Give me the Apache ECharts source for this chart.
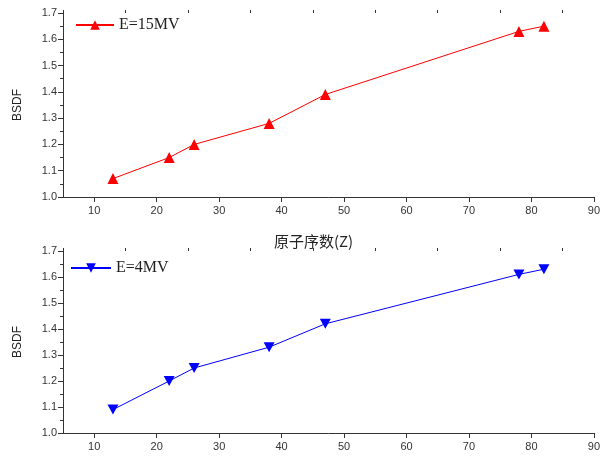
<!DOCTYPE html>
<html><head><meta charset="utf-8">
<script src="https://cdn.jsdelivr.net/npm/echarts@6/dist/echarts.min.js"></script>
<style>html,body{margin:0;padding:0;background:#fff}#c{width:603px;height:463px}</style>
</head><body><div id="c"></div>
<script>
const atomicNumbers = [13, 22, 26, 38, 47, 78, 82];
const bsdf15MV = [1.07, 1.15, 1.20, 1.28, 1.39, 1.63, 1.65];
const bsdf4MV = [1.09, 1.20, 1.25, 1.33, 1.42, 1.61, 1.63];
const xMajorTicks = [10, 20, 30, 40, 50, 60, 70, 80, 90];
const xMinorTicks = [5, 15, 25, 35, 45, 55, 65, 75, 85];
const seriesNames = ['E=15MV', 'E=4MV'];
const xAxisTitle = '原子序数(Z)';
const yAxisTitle = 'BSDF';

const axisColor = '#333';
const labelFont = {color: '#333', fontSize: 11, fontFamily: 'Liberation Sans, Arial, sans-serif'};

function xAxes(gridIndex) {
  return [{
    type: 'value', gridIndex, min: 5, max: 90, interval: 5,
    axisLine: {lineStyle: {color: axisColor, width: 1}},
    axisTick: {show: true, length: 5, customValues: xMajorTicks, lineStyle: {color: axisColor}},
    axisLabel: Object.assign({margin: 8, customValues: xMajorTicks}, labelFont),
    splitLine: {show: false}
  }, {
    type: 'value', gridIndex, min: 5, max: 90, interval: 5,
    axisLine: {show: false},
    axisTick: {show: true, length: 3, customValues: xMinorTicks, lineStyle: {color: axisColor}},
    axisLabel: {show: false},
    splitLine: {show: false}
  }];
}
function yAxis(gridIndex) {
  return {
    type: 'value', gridIndex, min: 1.0, max: 1.7, interval: 0.1,
    axisLine: {show: true, lineStyle: {color: axisColor, width: 1}},
    axisTick: {show: true, length: 5, lineStyle: {color: axisColor}},
    minorTick: {show: true, splitNumber: 2, length: 3, lineStyle: {color: axisColor}},
    axisLabel: Object.assign({margin: 6, formatter: v => v.toFixed(1)}, labelFont),
    splitLine: {show: false},
    name: yAxisTitle, nameLocation: 'middle', nameGap: 39,
    nameTextStyle: {color: '#222', fontSize: 12, fontFamily: 'Liberation Sans, Arial, sans-serif'}
  };
}

const legendText = {color: '#222', fontSize: 16, fontFamily: 'Liberation Serif, DejaVu Serif, serif'};
const chart = echarts.init(document.getElementById('c'), null, {renderer: 'canvas'});
chart.setOption({
  animation: false,
  backgroundColor: '#fff',
  title: {text: xAxisTitle, left: 269, top: 229,
    textStyle: {color: '#222', fontSize: 15, fontWeight: 'normal', fontFamily: 'Noto Sans CJK SC, sans-serif'}},
  grid: [
    {left: 63, top: 13, width: 531, height: 184},
    {left: 63, top: 251, width: 531, height: 182}
  ],
  legend: [
    {data: [seriesNames[0]], left: 70, top: 12, itemWidth: 38, itemHeight: 12, itemGap: 4, textStyle: legendText},
    {data: [seriesNames[1]], left: 65, top: 255, itemWidth: 40, itemHeight: 12, itemGap: 4, textStyle: legendText}
  ],
  xAxis: [...xAxes(0), ...xAxes(1)],
  yAxis: [yAxis(0), yAxis(1)],
  series: [
    {name: seriesNames[0], type: 'line', xAxisIndex: 0, yAxisIndex: 0,
     data: atomicNumbers.map((x, i) => [x, bsdf15MV[i]]),
     symbol: 'triangle', symbolSize: 11,
     lineStyle: {color: '#ff0000', width: 1}, itemStyle: {color: '#ff0000'}},
    {name: seriesNames[1], type: 'line', xAxisIndex: 2, yAxisIndex: 1,
     data: atomicNumbers.map((x, i) => [x, bsdf4MV[i]]),
     symbol: 'path://M0,0 L10,0 L5,9 Z', symbolSize: [11, 10],
     lineStyle: {color: '#0000ff', width: 1}, itemStyle: {color: '#0000ff'}}
  ]
});
</script></body></html>
